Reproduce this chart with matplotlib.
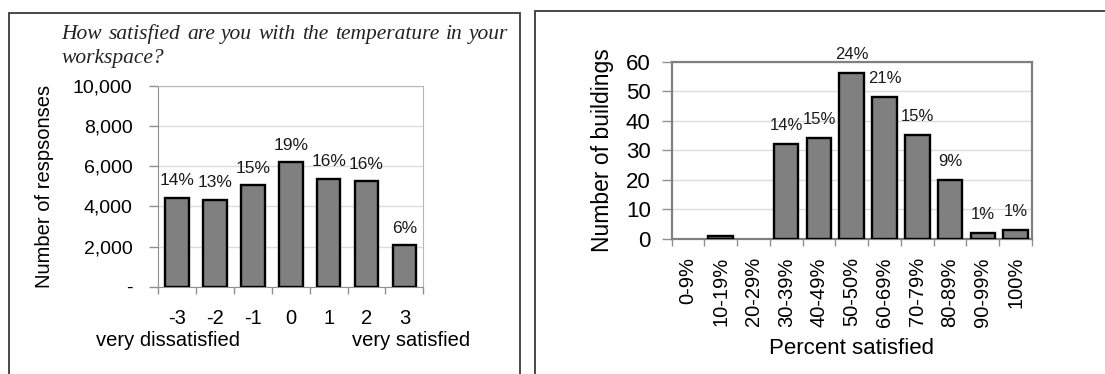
import matplotlib
matplotlib.use("Agg")
import matplotlib.pyplot as plt
from matplotlib.patches import Rectangle
from matplotlib.ticker import FuncFormatter, FixedLocator

plt.rcParams["font.family"] = ["Liberation Sans", "DejaVu Sans"]

# temperature satisfaction responses (7 point scale)
scale_points = ["-3", "-2", "-1", "0", "1", "2", "3"]
responses = [4420, 4340, 5050, 6210, 5380, 5250, 2070]
response_pct = ["14%", "13%", "15%", "19%", "16%", "16%", "6%"]

# buildings binned by percent of occupants satisfied
bins = ["0-9%", "10-19%", "20-29%", "30-39%", "40-49%", "50-50%",
        "60-69%", "70-79%", "80-89%", "90-99%", "100%"]
buildings = [0, 1, 0, 32, 34, 56, 48, 35, 20, 2, 3]
building_pct = ["", "", "", "14%", "15%", "24%", "21%", "15%", "9%", "1%", "1%"]

question = "How satisfied are you with the temperature in your workspace?"

W, H = 1105, 374
fig = plt.figure(figsize=(W / 100, H / 100), dpi=100)


def fx(px):
    return px / W


def fy(py):
    return 1 - py / H


# framing boxes around the two panels
fig.patches.append(Rectangle((fx(8.5), fy(400)), fx(511.5), (400 - 13) / H,
                             transform=fig.transFigure, fill=False,
                             edgecolor="#3a3a3a", linewidth=1.3))
fig.patches.append(Rectangle((fx(535), fy(400)), fx(600), (400 - 11) / H,
                             transform=fig.transFigure, fill=False,
                             edgecolor="#3a3a3a", linewidth=1.3))

bar_face = "#808080"
grid_col = "#dcdcdc"

# ---- left panel ----
ax1 = fig.add_axes([fx(158.3), fy(286.7), fx(265), (286.7 - 86) / H])
x1 = range(len(scale_points))
ax1.bar(x1, responses, width=0.62, color=bar_face, edgecolor="black",
        linewidth=1.7, zorder=3)
for i, (v, t) in enumerate(zip(responses, response_pct)):
    ax1.annotate(t, (i, v), xytext=(0, 12.5), textcoords="offset pixels",
                 ha="center", va="baseline", fontsize=12.5, color="#1a1a1a")
ax1.set_xlim(-0.5, 6.5)
ax1.set_ylim(0, 10000)
ax1.set_yticks(range(0, 10001, 2000))
ax1.yaxis.set_major_formatter(FuncFormatter(lambda v, p: "-" if v == 0 else f"{int(v):,}"))
ax1.set_xticks(list(x1))
ax1.set_xticklabels(scale_points)
ax1.xaxis.set_minor_locator(FixedLocator([i - 0.5 for i in range(8)]))
ax1.tick_params(axis="x", which="major", length=0, pad=16, labelsize=14.5)
ax1.tick_params(axis="x", which="minor", length=5, color="#909090", width=1)
ax1.tick_params(axis="y", length=6.5, color="#909090", width=1, pad=12, labelsize=14)
ax1.yaxis.grid(True, color=grid_col, linewidth=1, zorder=0)
for side in ["left", "bottom"]:
    ax1.spines[side].set_color("#909090")
for side in ["top", "right"]:
    ax1.spines[side].set_color("#b8b8b8")
ax1.set_ylabel("Number of respsonses", fontsize=14.5)
ax1.yaxis.set_label_coords((45 - 158.3) / 265, 0.5)
ax1.yaxis.label.set_va("center")

fig.text(fx(240.5), fy(340), "very dissatisfied", ha="right", va="center", fontsize=14.5)
fig.text(fx(351.7), fy(340), "very satisfied", ha="left", va="center", fontsize=14.5)

# question text, justified across the panel width
renderer = fig.canvas.get_renderer()
words = question.split()
line1, line2 = words[:-1], words[-1:]
qfont = dict(family="Liberation Serif", style="italic", fontsize=15.5, color="#222222")
left_px, right_px = 61.7, 508
texts = [fig.text(0, fy(39), w, ha="left", va="baseline", **qfont) for w in line1]
widths = [t.get_window_extent(renderer).width for t in texts]
gap = (right_px - left_px - sum(widths)) / (len(texts) - 1)
xpos = left_px
for t, w in zip(texts, widths):
    t.set_x(fx(xpos))
    xpos += w + gap
fig.text(fx(left_px), fy(63), " ".join(line2), ha="left", va="baseline", **qfont)

# ---- right panel ----
ax2 = fig.add_axes([fx(671.5), fy(239), fx(360.5), (239 - 61.5) / H])
x2 = range(len(bins))
ax2.bar(x2, buildings, width=0.75, color=bar_face, edgecolor="black",
        linewidth=[1.7 if v > 0 else 0 for v in buildings], zorder=3)
for i, (v, t) in enumerate(zip(buildings, building_pct)):
    if t:
        ax2.annotate(t, (i, v), xytext=(0, 14), textcoords="offset pixels",
                     ha="center", va="baseline", fontsize=12, color="#1a1a1a",
                     annotation_clip=False)
ax2.set_xlim(-0.5, 10.5)
ax2.set_ylim(0, 60)
ax2.set_yticks(range(0, 61, 10))
ax2.set_xticks(list(x2))
ax2.set_xticklabels(bins, rotation=90)
ax2.xaxis.set_minor_locator(FixedLocator([i - 0.5 for i in range(12)]))
ax2.tick_params(axis="x", which="major", length=0, pad=13, labelsize=14.5)
ax2.tick_params(axis="x", which="minor", length=5, color="#909090", width=1)
ax2.tick_params(axis="y", length=7, color="#909090", width=1, pad=8, labelsize=16)
ax2.yaxis.grid(True, color=grid_col, linewidth=1, zorder=0)
for side in ax2.spines.values():
    side.set_color("#808080")
    side.set_linewidth(1.6)
ax2.set_xlabel("Percent satisfied", fontsize=16)
ax2.xaxis.set_label_coords(0.5, (239 - 348) / (239 - 61.5))
ax2.xaxis.label.set_va("center")
ax2.set_ylabel("Number of buildings", fontsize=16.5)
ax2.yaxis.set_label_coords((603 - 671.5) / 360.5, 0.5)
ax2.yaxis.label.set_va("center")

fig.savefig("out.png", dpi=100)
